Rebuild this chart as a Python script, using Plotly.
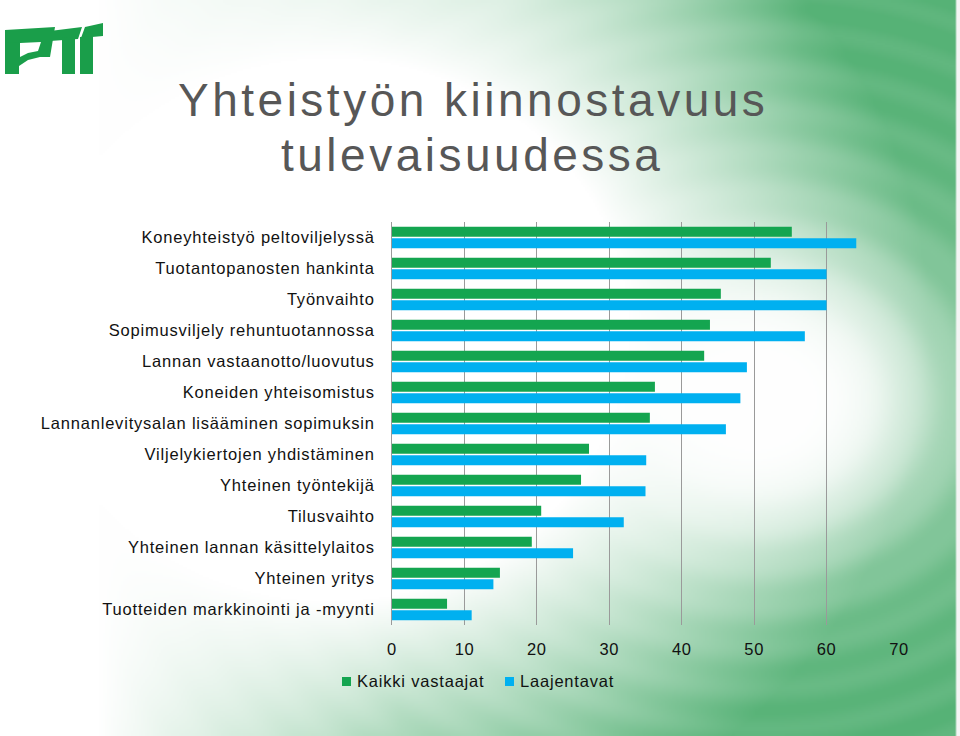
import base64, struct, zlib
import numpy as np
import plotly.graph_objects as go

categories = [
    "Koneyhteistyö peltoviljelyssä",
    "Tuotantopanosten hankinta",
    "Työnvaihto",
    "Sopimusviljely rehuntuotannossa",
    "Lannan vastaanotto/luovutus",
    "Koneiden yhteisomistus",
    "Lannanlevitysalan lisääminen sopimuksin",
    "Viljelykiertojen yhdistäminen",
    "Yhteinen työntekijä",
    "Tilusvaihto",
    "Yhteinen lannan käsittelylaitos",
    "Yhteinen yritys",
    "Tuotteiden markkinointi ja -myynti",
]
kaikki_vastaajat = [55.2, 52.3, 45.4, 43.9, 43.1, 36.3, 35.6, 27.2, 26.1, 20.6, 19.3, 14.9, 7.6]
laajentavat = [64.1, 60.0, 60.0, 57.0, 49.0, 48.1, 46.1, 35.1, 35.0, 32.0, 25.0, 14.0, 11.0]
x_ticks = [0, 10, 20, 30, 40, 50, 60, 70]
series_names = ["Kaikki vastaajat", "Laajentavat"]
title_lines = ["Yhteistyön kiinnostavuus", "tulevaisuudessa"]

W, H = 960, 736
L, R, T, B = 392, 61, 222, 111
PW, PH = W - L - R, H - T - B

def px(x):
    return (x - L) / PW

def py(y):
    return 1 - (y - T) / PH

# ---- background gradient image ----
def make_png(arr):
    h, w, _ = arr.shape
    raw = b"".join(b"\x00" + arr[i].tobytes() for i in range(h))
    def chunk(tag, data):
        c = struct.pack(">I", len(data)) + tag + data
        return c + struct.pack(">I", zlib.crc32(tag + data) & 0xFFFFFFFF)
    return (b"\x89PNG\r\n\x1a\n" + chunk(b"IHDR", struct.pack(">IIBBBBB", w, h, 8, 2, 0, 0, 0))
            + chunk(b"IDAT", zlib.compress(raw, 9)) + chunk(b"IEND", b""))

sc = 2
gw, gh = W // sc, H // sc
xx, yy = np.meshgrid((np.arange(gw) + 0.5) * sc, (np.arange(gh) + 0.5) * sc)
d = np.sqrt((xx - 330) ** 2 + ((yy - 330) * 1.1) ** 2)
base = np.clip((d - 300) / 300, 0, 1) * np.clip((xx - 100) / 300, 0, 1)
base *= 1 - 0.4 * np.clip((250 - yy) / 250, 0, 1) * np.clip((800 - xx) / 300, 0, 1)
e = ((xx - 760) / 170) ** 2 + ((yy - 400) / 140) ** 2
spot = 1 / (1 + (e / 1.2) ** 2)
t = base * (1 - spot)
t = t * (1 - 0.04 * np.sin(np.sqrt(e) * 22))
t = np.clip(t, 0, 1)[..., None]
G = np.array([86, 178, 118], dtype=float)
img = (255 * (1 - t) + G * t).astype(np.uint8)
img[:, -2:, :] = 245
bg_uri = "data:image/png;base64," + base64.b64encode(make_png(img)).decode()

GREEN = "#14a550"
BLUE = "#00b0f0"
FONT = "Liberation Sans"
TXT = "#111111"

def spaced(s, sp):
    return f'<span style="letter-spacing:{sp}px">{s}</span>'

fig = go.Figure()
fig.add_trace(go.Bar(y=categories, x=kaikki_vastaajat, orientation="h", name=series_names[0],
                     marker=dict(color=GREEN, line=dict(width=0))))
fig.add_trace(go.Bar(y=categories, x=laajentavat, orientation="h", name=series_names[1],
                     marker=dict(color=BLUE, line=dict(width=0))))

shapes = []
LOGO = "#1a9e4a"
def path(pts, color=LOGO):
    s = "M " + " L ".join(f"{px(a)},{py(b)}" for a, b in pts) + " Z"
    return dict(type="path", xref="paper", yref="paper", path=s, fillcolor=color,
                line=dict(width=0), layer="above")
# P
shapes.append(path([(5, 30), (19, 30), (19, 74), (5, 74)]))
shapes.append(path([(5, 30), (55, 27), (50, 57), (40, 57), (28, 60), (19, 66), (19, 42), (5, 43)]))
shapes.append(path([(20, 43), (41, 42), (38, 51), (28, 53), (20, 57)], color="white"))
# T T
shapes.append(path([(50, 31), (82, 27), (78, 39), (50, 41)]))
shapes.append(path([(62, 38), (75, 37), (75, 74), (62, 74)]))
shapes.append(path([(85, 27), (103, 23), (103, 36), (81, 38)]))
shapes.append(path([(80, 37), (93, 36), (93, 74), (80, 74)]))
# legend squares
for x0, col in [(342, GREEN), (505, BLUE)]:
    shapes.append(dict(type="rect", xref="paper", yref="paper", x0=px(x0), x1=px(x0 + 9),
                       y0=py(686), y1=py(677), fillcolor=col, line=dict(width=0)))

annotations = [
    dict(text=spaced(title_lines[0], 3.5), xref="paper", yref="paper", x=px(473), y=py(100),
         xanchor="center", yanchor="middle", showarrow=False,
         font=dict(family=FONT, size=46, color="#575757")),
    dict(text=spaced(title_lines[1], 3.5), xref="paper", yref="paper", x=px(472), y=py(155),
         xanchor="center", yanchor="middle", showarrow=False,
         font=dict(family=FONT, size=46, color="#575757")),
    dict(text=spaced(series_names[0], 0.8), xref="paper", yref="paper", x=px(355), y=py(681),
         xanchor="left", yanchor="middle", showarrow=False,
         font=dict(family=FONT, size=16.5, color=TXT)),
    dict(text=spaced(series_names[1], 0.8), xref="paper", yref="paper", x=px(518), y=py(681),
         xanchor="left", yanchor="middle", showarrow=False,
         font=dict(family=FONT, size=16.5, color=TXT)),
]

fig.update_layout(
    width=W, height=H,
    margin=dict(l=L, r=R, t=T, b=B),
    paper_bgcolor="white", plot_bgcolor="rgba(0,0,0,0)",
    barmode="group", bargap=0.26, bargroupgap=0.13,
    showlegend=False,
    font=dict(family=FONT, size=16, color=TXT),
    images=[dict(source=bg_uri, xref="paper", yref="paper", x=px(0), y=py(0),
                 sizex=W / PW, sizey=H / PH, xanchor="left", yanchor="top",
                 sizing="stretch", layer="below")],
    shapes=shapes,
    annotations=annotations,
)
fig.update_xaxes(range=[0, 70], tickmode="array", tickvals=x_ticks,
                 ticktext=[spaced(str(v), 0.6) for v in x_ticks],
                 showgrid=True, gridcolor="#9a9a9a", gridwidth=1,
                 zeroline=False, showline=False, ticks="", ticklabelstandoff=12,
                 tickfont=dict(family=FONT, size=16.5, color=TXT))
fig.update_yaxes(autorange="reversed", tickmode="array", tickvals=categories,
                 ticktext=[spaced(c, 0.8) for c in categories],
                 showgrid=False, zeroline=False, showline=True,
                 linecolor="#9a9a9a", linewidth=1, ticks="", ticklabelstandoff=13,
                 tickfont=dict(family=FONT, size=16.5, color=TXT))

fig.write_html("out.html")
